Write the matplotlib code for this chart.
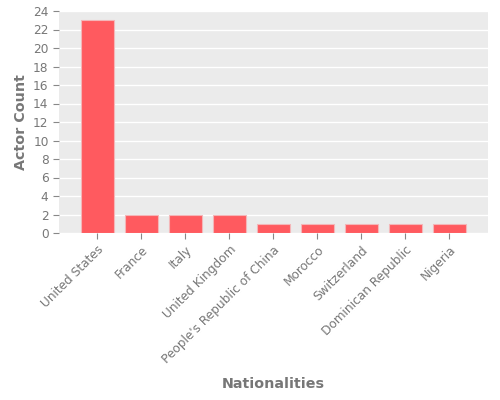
import matplotlib
matplotlib.use("Agg")
import matplotlib.pyplot as plt

# Data
nationalities = ["United States", "France", "Italy", "United Kingdom",
                 "People's Republic of China", "Morocco", "Switzerland",
                 "Dominican Republic", "Nigeria"]
actor_counts = [23, 2, 2, 2, 1, 1, 1, 1, 1]

fig = plt.figure(figsize=(5, 4), dpi=100)
ax = fig.add_axes([0.118, 0.4175, 0.858, 0.555])
ax.set_facecolor("#EBEBEB")

x = range(len(nationalities))
ax.bar(x, actor_counts, width=0.75, color="#FF5A5F",
       edgecolor="#F4B6B8", linewidth=0.8, zorder=3)

ax.set_xlim(-0.87, 8.88)
ax.set_ylim(0, 24)
ax.set_yticks(range(0, 25, 2))
ax.set_xticks(list(x))
ax.set_xticklabels(nationalities, rotation=45, ha="right",
                   rotation_mode="anchor")

ax.grid(axis="y", color="white", linewidth=1, zorder=0)
for s in ax.spines.values():
    s.set_visible(False)
ax.tick_params(colors="#888888", labelcolor="#777777", labelsize=8.7,
               length=4, width=0.8)

ax.set_ylabel("Actor Count", color="#777777", fontsize=10.3,
              fontweight="bold", labelpad=4)
ax.set_xlabel("Nationalities", color="#777777", fontsize=10.3,
              fontweight="bold", labelpad=8)

fig.savefig("out.png", dpi=100)
